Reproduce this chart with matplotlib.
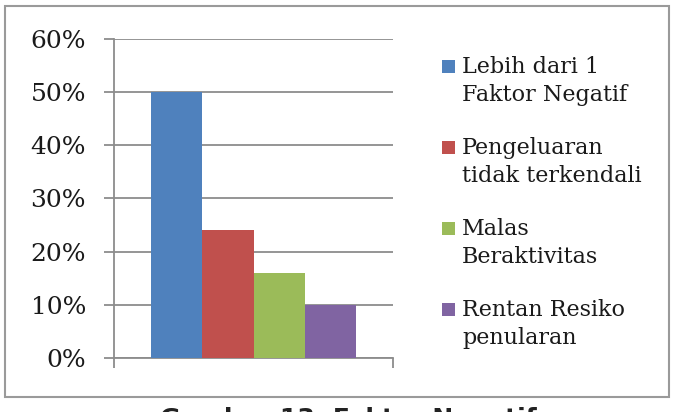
import matplotlib
matplotlib.use("Agg")
import matplotlib.pyplot as plt
from matplotlib.patches import Rectangle
from matplotlib.ticker import FuncFormatter

series = ["Lebih dari 1\nFaktor Negatif", "Pengeluaran\ntidak terkendali",
          "Malas\nBeraktivitas", "Rentan Resiko\npenularan"]
values = [0.50, 0.24, 0.16, 0.10]
colors = ["#4F81BD", "#C0504D", "#9BBB59", "#8064A2"]
yticks = [0, 0.1, 0.2, 0.3, 0.4, 0.5, 0.6]
caption = "Gambar 13. Faktor Negatif"

W, H = 677, 412
fig = plt.figure(figsize=(W / 100, H / 100), dpi=100)
serif = ["DejaVu Serif"]
grey = "#8C8C8C"
textc = "#1a1a1a"

ax = fig.add_axes([114 / W, 1 - 358 / H, (393 - 114) / W, (358 - 39) / H])
w = 0.1828
n = len(values)
for i, (v, c, lab) in enumerate(zip(values, colors, series)):
    ax.bar((i - (n - 1) / 2) * w, v, width=w, color=c, label=lab, zorder=3)

ax.set_xlim(-0.5, 0.5)
ax.set_ylim(0, 0.6)
ax.set_yticks(yticks)
ax.yaxis.set_major_formatter(FuncFormatter(lambda y, p: f"{y*100:.0f}%"))
ax.set_xticks([-0.5, 0.5])
ax.set_xticklabels([])
ax.grid(axis="y", color=grey, linewidth=1.3, zorder=0)
for s in ["top", "right"]:
    ax.spines[s].set_visible(False)
for s in ["left", "bottom"]:
    ax.spines[s].set_color(grey)
    ax.spines[s].set_linewidth(1.3)
ax.tick_params(axis="y", length=7.2, width=1.3, color=grey, pad=13,
               labelsize=18, labelcolor=textc)
ax.tick_params(axis="x", length=7.2, width=1.3, color=grey)
for t in ax.get_yticklabels():
    t.set_fontfamily(serif)

# legend drawn entry by entry (square aligned with the first text line)
leg_x, leg_top, leg_step, sq = 442, 60, 81, 13
for i, (c, lab) in enumerate(zip(colors, series)):
    y0 = leg_top + i * leg_step
    fig.add_artist(Rectangle((leg_x / W, 1 - (y0 + sq) / H), sq / W, sq / H,
                             transform=fig.transFigure, facecolor=c,
                             edgecolor="none"))
    fig.text((leg_x + sq + 7) / W, 1 - (y0 - 4) / H, lab, ha="left", va="top",
             fontsize=16, family=serif, color=textc, linespacing=1.33)

fig.add_artist(Rectangle((5 / W, 1 - 397 / H), (669 - 5) / W, (397 - 6) / H,
                         transform=fig.transFigure, fill=False,
                         edgecolor="#9a9a9a", linewidth=1.5))

fig.text(348 / W, 1 - 407 / H, caption, ha="center", va="top",
         fontsize=18, fontweight="bold", family="DejaVu Sans", color="#222222")

fig.savefig("out.png", dpi=100)
